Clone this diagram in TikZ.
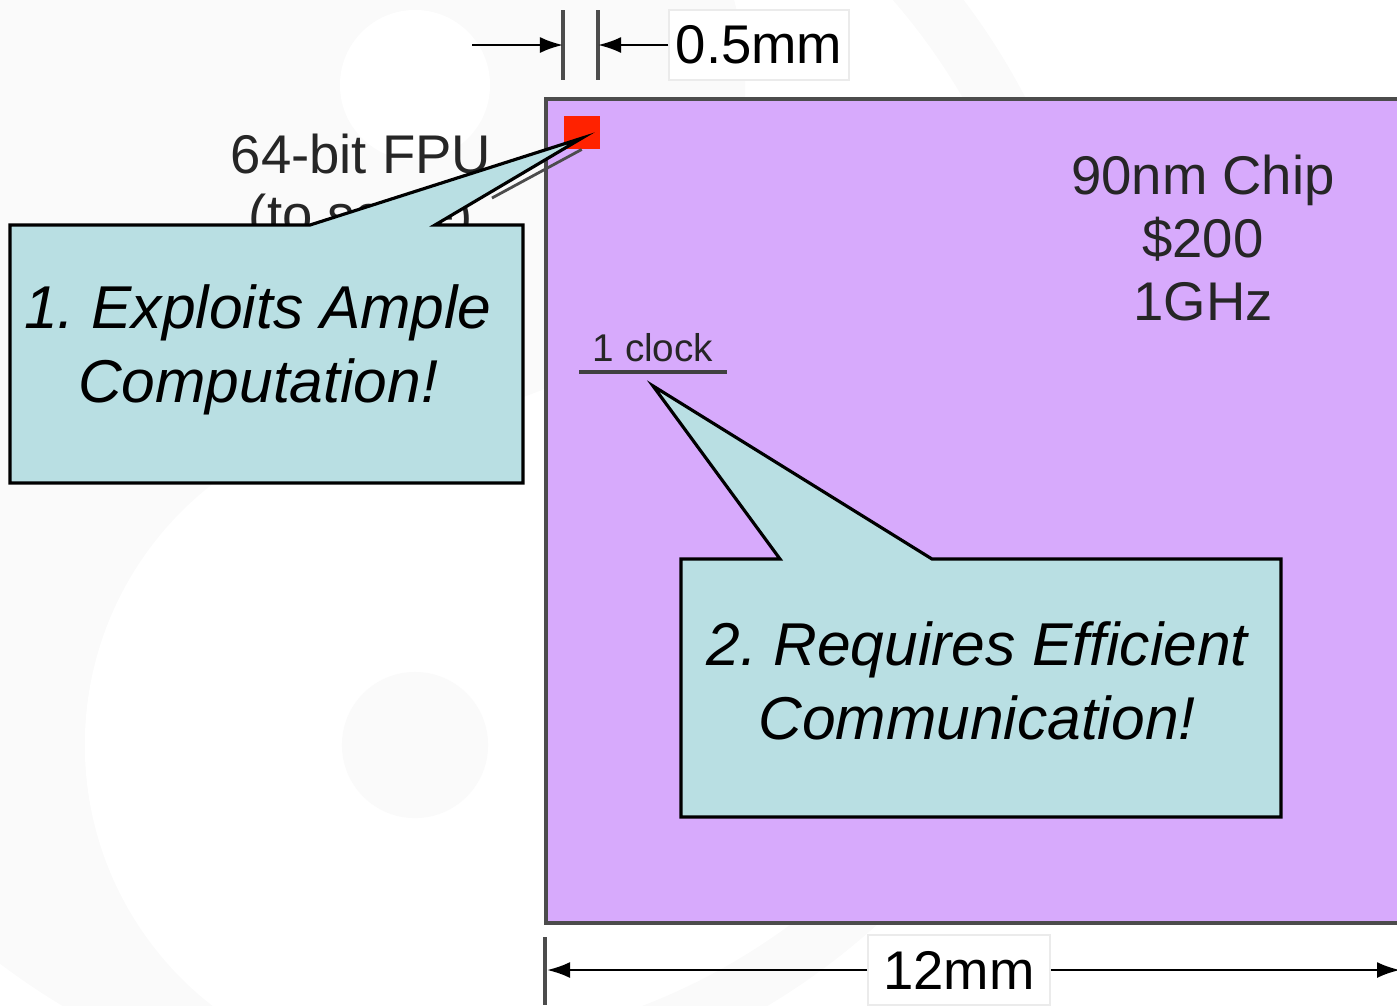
\documentclass[tikz,border=0pt]{standalone}
\usepackage{fontspec}
\setmainfont{Liberation Sans}
\usetikzlibrary{positioning,arrows.meta}
\definecolor{chipfill}{RGB}{215,170,252}
\definecolor{calloutfill}{RGB}{185,223,227}
\definecolor{fpured}{RGB}{255,34,0}
\definecolor{bgshade}{RGB}{250,250,250}
\frenchspacing

\begin{document}
\begin{tikzpicture}[x=0.01cm, y=-0.01cm, >={Latex[length=2.3mm,width=1.6mm]},
    every node/.style={font=\fontsize{15.5}{17.9}\selectfont, inner sep=0pt},
    callout/.style={draw=black, line width=0.9pt, fill=calloutfill},
    calltext/.style={font=\fontsize{17.2}{21}\selectfont\itshape, align=center},
    dimline/.style={->, line width=0.7pt},
    dimtick/.style={draw=black!70, line width=1pt},
    dimlabel/.style={draw=black!8, fill=white, line width=0.4pt, minimum width=1.8cm, minimum height=0.7cm}]

  \useasboundingbox (0,0) rectangle (1397,1005);
  \clip (0,0) rectangle (1397,1005);

  % faint emblem in the background
  \begin{scope}
    \clip (-300,-300) rectangle (415,1300);
    \fill[bgshade] (415,415) circle[radius=6.6cm];
  \end{scope}
  \fill[bgshade] (415,85) circle[radius=3.3cm];
  \fill[white] (415,745) circle[radius=3.3cm];
  \fill[white] (415,85) circle[radius=0.75cm];
  \fill[bgshade] (415,745) circle[radius=0.73cm];
  \draw[bgshade, line width=0.55cm] (415,415) circle[radius=6.6cm];

  % the chip
  \node[draw=black!70, line width=1.2pt, fill=chipfill, minimum width=8.6cm, minimum height=8.23cm, anchor=north west] (chip) at (544,97) {};
  \node[align=center, text=black!85] (spec) at (1203,238) {90nm Chip\\\$200\\1GHz};
  \node[fill=fpured, minimum width=0.36cm, minimum height=0.33cm, anchor=north west] (fpu) at (563,115) {};
  \node[align=center, text=black!85, font=\fontsize{15.5}{17}\selectfont] (fpulabel) at (361,189) {64-bit FPU\\(to scale)};
  \draw[black!70, line width=0.8pt] ([yshift=-0.09cm]fpulabel.east) -- (fpu.south);

  \node[font=\fontsize{11}{13}\selectfont, text=black!85, minimum width=1.46cm, inner ysep=0.09cm] (clock) at (653,348) {1 clock};
  \draw[black!75, line width=1pt] (clock.south west) -- (clock.south east);

  % dimensions
  \node[dimlabel] (dimfpu) at (759,45) {0.5mm};
  \coordinate (fpuL) at (563,45);
  \coordinate (fpuR) at (598,45);
  \coordinate (fpuin) at (472,45);
  \draw[dimtick] (fpuL) ++(0,-35) -- ++(0,70);
  \draw[dimtick] (fpuR) ++(0,-35) -- ++(0,70);
  \draw[dimline] (fpuin) -- (fpuL);
  \draw[dimline] (dimfpu) -- (fpuR);

  \node[dimlabel, minimum width=1.82cm] (dimchip) at (959,970) {12mm};
  \coordinate (chipL) at (547,970);
  \coordinate (chipR) at (1400,970);
  \draw[dimtick] (545,937) -- (545,1005);
  \draw[dimline] (dimchip) -- (chipL);
  \draw[dimline] (dimchip) -- (chipR);

  % callouts
  \coordinate (tip1) at ([yshift=-0.06cm]fpu.center);
  \draw[callout] (10,225) -- (310,225) -- (tip1) -- (435,225) -- (523,225) -- (523,483) -- (10,483) -- cycle;
  \node[calltext] (note1) at (258,350) {1. Exploits Ample\\Computation!};

  \coordinate (tip2) at ([yshift=-0.14cm]clock.south);
  \draw[callout] (681,559) -- (780,559) -- (tip2) -- (932,559) -- (1281,559) -- (1281,817) -- (681,817) -- cycle;
  \node[calltext] (note2) at (977,681) {2. Requires Efficient\\Communication!};
\end{tikzpicture}
\end{document}
